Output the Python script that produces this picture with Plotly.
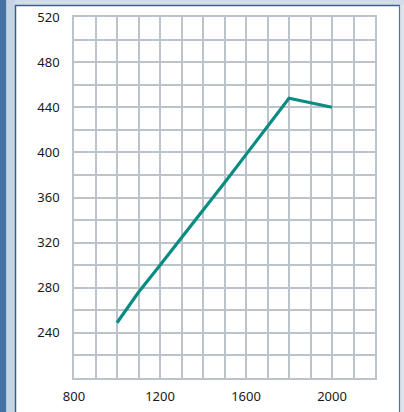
import plotly.graph_objects as go

x_vals = [1000, 1050, 1100, 1200, 1300, 1400, 1500, 1600, 1700, 1800, 2000]
y_vals = [249, 263, 276, 300, 324, 349, 373, 398, 423, 448, 440]
x_tick_vals = [800, 1200, 1600, 2000]
y_tick_vals = [240, 280, 320, 360, 400, 440, 480, 520]

W, H = 404, 412
L, R, T, B = 74, 375, 17, 378
GRID = "#bcc3ca"

def px(x):
    return (x - L) / (R - L)

def py(y):
    return (B - y) / (B - T)

fig = go.Figure()
fig.add_trace(go.Scatter(x=x_vals, y=y_vals, mode="lines",
                         line=dict(color="#0a8c82", width=3.2),
                         hoverinfo="skip"))

shapes = [
    dict(type="rect", xref="paper", yref="paper", x0=px(0), x1=px(6.5), y0=py(H), y1=py(0),
         fillcolor="#4473a3", line_width=0, layer="above"),
    dict(type="rect", xref="paper", yref="paper", x0=px(6.5), x1=px(15), y0=py(H), y1=py(0),
         fillcolor="#c6d5e4", line_width=0, layer="above"),
    dict(type="rect", xref="paper", yref="paper", x0=px(15), x1=px(W), y0=py(5), y1=py(0),
         fillcolor="#d3dde8", line_width=0, layer="above"),
    dict(type="rect", xref="paper", yref="paper", x0=px(400), x1=px(W), y0=py(H), y1=py(5),
         fillcolor="#dde3ea", line_width=0, layer="above"),
    dict(type="line", xref="paper", yref="paper", x0=px(15.5), x1=px(15.5), y0=py(H), y1=py(5),
         line=dict(color="#3d5f8a", width=1.5), layer="above"),
    dict(type="line", xref="paper", yref="paper", x0=px(15), x1=px(400), y0=py(5.5), y1=py(5.5),
         line=dict(color="#3d5f8a", width=1.5), layer="above"),
    dict(type="line", xref="paper", yref="paper", x0=px(399.5), x1=px(399.5), y0=py(H), y1=py(5),
         line=dict(color="#5a7393", width=1.2), layer="above"),
]

fig.update_layout(
    width=W, height=H,
    margin=dict(l=L, r=W - R, t=T, b=H - B, pad=0),
    paper_bgcolor="white", plot_bgcolor="white",
    showlegend=False,
    font=dict(family="Noto Sans, Open Sans, sans-serif", size=13, color="#1a1a1a"),
    shapes=shapes,
    xaxis=dict(range=[800, 2200], tickvals=x_tick_vals, ticks="", showgrid=True,
               gridcolor=GRID, gridwidth=1.5, zeroline=False, automargin=False,
               showline=True, linecolor=GRID, linewidth=1.5, mirror=True,
               minor=dict(dtick=100, tick0=800, showgrid=True, gridcolor=GRID, gridwidth=1.5),
               ticklabelstandoff=6, fixedrange=True),
    yaxis=dict(range=[200, 520], tickvals=y_tick_vals, ticks="", showgrid=True,
               gridcolor=GRID, gridwidth=1.5, zeroline=False, automargin=False,
               showline=True, linecolor=GRID, linewidth=1.5, mirror=True,
               minor=dict(dtick=20, tick0=200, showgrid=True, gridcolor=GRID, gridwidth=1.5),
               ticklabelstandoff=10, fixedrange=True),
)

fig.write_html(
    "out.html",
    config=dict(displayModeBar=False),
    post_script="document.body.style.margin='0';document.body.style.overflow='hidden';",
)
